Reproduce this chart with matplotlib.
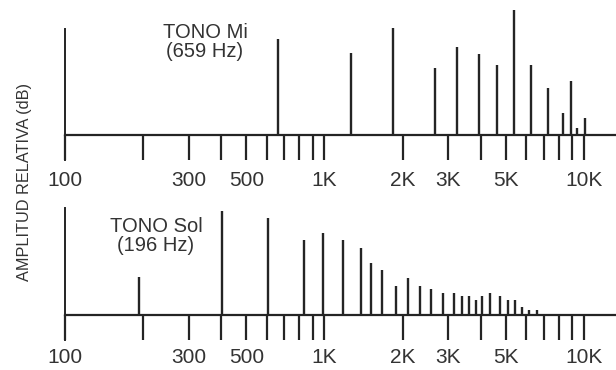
import numpy as np
import matplotlib
matplotlib.use("Agg")
import matplotlib.pyplot as plt
from matplotlib.ticker import FixedLocator, FixedFormatter, NullLocator

plt.rcParams['font.family'] = ['Liberation Sans', 'DejaVu Sans']

# tick marks on the frequency axis (Hz) and the labels shown under them
tick_freqs = [100, 200, 300, 400, 500, 600, 700, 800, 900,
              1000, 2000, 3000, 4000, 5000, 6000, 7000, 8000, 9000, 10000]
tick_labels = ['100', '', '300', '', '500', '', '', '', '',
               '1K', '2K', '3K', '', '5K', '', '', '', '', '10K']

# TONO Mi (659 Hz) - partials
mi_freqs = [662, 1265, 1837, 2666, 3240, 3939, 4619, 5374, 6248, 7266,
            8302, 8910, 9397, 10090]
mi_amps = [96, 82, 107, 67, 88, 81, 70, 125, 70, 47, 22, 54, 7, 17]

# TONO Sol (196 Hz)
sol_freqs = [193, 403, 606, 834, 987, 1179, 1382, 1511, 1666, 1886, 2098,
             2334, 2573, 2861, 3155, 3388, 3604, 3835, 4046, 4342, 4747,
             5095, 5422, 5769, 6139, 6590]
sol_amps = [38, 104, 97, 75, 82, 75, 67, 52, 45, 29, 37, 29, 26, 22, 22,
            19, 19, 15, 19, 22, 19, 15, 15, 8, 5, 5]

ink = '#242424'
txt = '#333333'

W, H = 616, 370
fig = plt.figure(figsize=(W / 100, H / 100), dpi=100)

f_max = 10 ** (2 + 550 / 259.5)


def setup(ax, top_bound, pad):
    ax.set_xscale('log')
    ax.set_xlim(100, f_max)
    ax.xaxis.set_major_locator(FixedLocator(tick_freqs))
    ax.xaxis.set_major_formatter(FixedFormatter(tick_labels))
    ax.xaxis.set_minor_locator(NullLocator())
    ax.set_yticks([])
    ax.spines['top'].set_visible(False)
    ax.spines['right'].set_visible(False)
    ax.spines['bottom'].set_position(('data', 0))
    ax.spines['bottom'].set_linewidth(1.6)
    ax.spines['bottom'].set_color(ink)
    ax.spines['left'].set_bounds(-25, top_bound)
    ax.spines['left'].set_linewidth(1.4)
    ax.spines['left'].set_color(ink)
    ax.tick_params(axis='x', direction='out', length=18, width=1.6,
                   color=ink, labelsize=15, labelcolor=txt, pad=pad)
    ax.patch.set_visible(False)


ax1 = fig.add_axes([65 / W, (H - 160) / H, 550 / W, 155 / H])
ax1.set_ylim(-25, 130)
setup(ax1, 106, 8)
ax1.vlines(mi_freqs, 0, mi_amps, colors=ink, lw=1.7)
ax1.text(205 / W, (H - 42) / H, 'TONO Mi\n(659 Hz)', transform=fig.transFigure,
         ha='center', va='center', fontsize=14.5, color=txt, linespacing=1.05)

ax2 = fig.add_axes([65 / W, 30 / H, 550 / W, 135 / H])
ax2.set_ylim(-25, 110)
setup(ax2, 107, 6)
ax2.vlines(sol_freqs, 0, sol_amps, colors=ink, lw=1.7)
ax2.text(156 / W, (H - 236) / H, 'TONO Sol\n(196 Hz)', transform=fig.transFigure,
         ha='center', va='center', fontsize=14.5, color=txt, linespacing=1.05)

fig.text(25 / W, (H - 182) / H, 'AMPLITUD RELATIVA (dB)', rotation=90,
         ha='center', va='center', fontsize=11.7, color=txt)

fig.savefig('out.png', dpi=100)
